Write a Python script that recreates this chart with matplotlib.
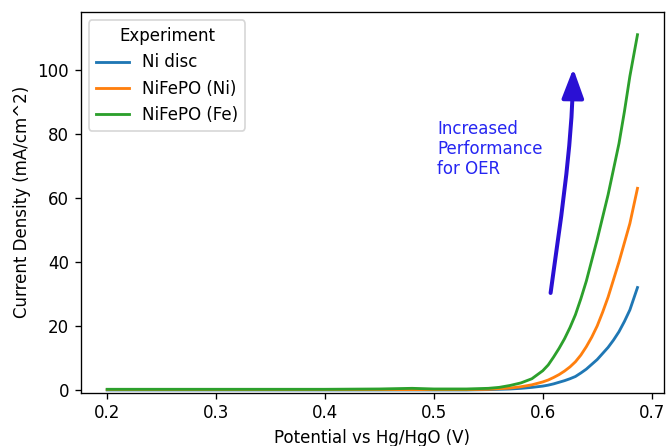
import matplotlib
matplotlib.use("Agg")
import matplotlib.pyplot as plt
from matplotlib.patches import FancyArrowPatch
from matplotlib.path import Path

# Polarisation curves (potential in V vs Hg/HgO, current density in mA/cm^2)
potential = [0.20, 0.30, 0.40, 0.45, 0.48, 0.50, 0.53, 0.55, 0.56, 0.57,
             0.58, 0.59, 0.60, 0.605, 0.61, 0.615, 0.62, 0.625, 0.63, 0.635,
             0.64, 0.645, 0.65, 0.655, 0.66, 0.665, 0.67, 0.675, 0.68, 0.687]

ni_disc = [0.0, 0.0, 0.0, 0.0, 0.0, 0.0, 0.0, 0.1, 0.2, 0.3,
           0.5, 0.8, 1.2, 1.5, 1.9, 2.4, 2.9, 3.5, 4.2, 5.3,
           6.5, 8.0, 9.5, 11.4, 13.3, 15.6, 18.2, 21.4, 25.0, 32.0]
nifepo_ni = [0.1, 0.1, 0.1, 0.1, 0.1, 0.1, 0.1, 0.2, 0.4, 0.6,
             1.0, 1.6, 2.5, 3.1, 3.9, 4.8, 5.9, 7.2, 8.8, 10.9,
             13.5, 16.5, 20.0, 24.3, 29.0, 34.5, 40.0, 46.0, 52.0, 63.0]
nifepo_fe = [0.2, 0.2, 0.2, 0.3, 0.5, 0.3, 0.3, 0.5, 0.8, 1.4,
             2.2, 3.5, 6.0, 7.8, 10.3, 13.0, 16.0, 19.5, 23.5, 28.5,
             34.0, 40.5, 47.0, 54.0, 61.0, 69.0, 77.0, 87.0, 98.0, 111.0]

series_names = ["Ni disc", "NiFePO (Ni)", "NiFePO (Fe)"]
series_values = [ni_disc, nifepo_ni, nifepo_fe]
series_colors = ["#1f77b4", "#ff7f0e", "#2ca02c"]

# Curved annotation arrow: start, two Bezier control points, tip
arrow_v = [0.6072, 0.6150, 0.6270, 0.6280]
arrow_j = [30.3, 50.0, 75.0, 100.4]
note_text = "Increased\nPerformance\nfor OER"

dpi = 120
fig = plt.figure(figsize=(670 / dpi, 446 / dpi), dpi=dpi)
ax = fig.add_axes([80.7 / 670, 1 - 392.5 / 446, (664 - 80.7) / 670, (392.5 - 12) / 446])

for name, vals, col in zip(series_names, series_values, series_colors):
    ax.plot(potential, vals, color=col, lw=1.7, label=name)

ax.set_ylim(-0.8, 118.1)
ax.set_xlabel("Potential vs Hg/HgO (V)")
ax.set_ylabel("Current Density (mA/cm^2)")

leg = ax.legend(title="Experiment", loc="upper left")

arrow_path = Path(list(zip(arrow_v, arrow_j)),
                  [Path.MOVETO, Path.CURVE4, Path.CURVE4, Path.CURVE4])
arrow = FancyArrowPatch(path=arrow_path,
                        arrowstyle="-|>,head_length=0.75,head_width=0.28",
                        mutation_scale=20, lw=2.4, color="#2a10d4")
ax.add_patch(arrow)

ax.text(0.503, 84.5, note_text, color="#2626f2", ha="left", va="top",
        fontsize=10, linespacing=1.15)

fig.savefig("out.png", dpi=dpi)
